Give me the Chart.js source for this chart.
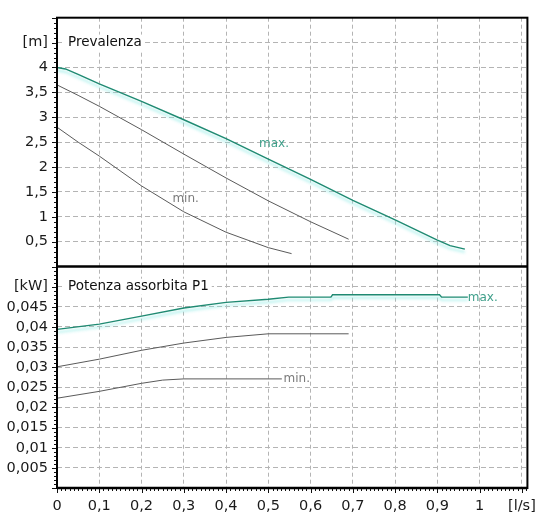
<!DOCTYPE html>
<html>
<head>
<meta charset="utf-8">
<script src="https://cdn.jsdelivr.net/npm/chart.js@4.4.1/dist/chart.umd.min.js"></script>
<style>
  html, body { margin: 0; padding: 0; background: #fff; }
  #wrap { width: 546px; height: 515px; }
</style>
</head>
<body>
<div id="wrap"><canvas id="curve" width="546" height="515"></canvas></div>
<script>
// portata [l/s]
var flowTicks = [0, 0.1, 0.2, 0.3, 0.4, 0.5, 0.6, 0.7, 0.8, 0.9, 1, 1.1];
var flowLabels = ['0', '0,1', '0,2', '0,3', '0,4', '0,5', '0,6', '0,7', '0,8', '0,9', '1', '[l/s]'];

// prevalenza [m]
var headTicks = [0.5, 1, 1.5, 2, 2.5, 3, 3.5, 4, 4.5];
var headLabels = ['0,5', '1', '1,5', '2', '2,5', '3', '3,5', '4', '[m]'];

// potenza [kW]
var powerTicks = [0.005, 0.01, 0.015, 0.02, 0.025, 0.03, 0.035, 0.04, 0.045, 0.05];
var powerLabels = ['0,005', '0,01', '0,015', '0,02', '0,025', '0,03', '0,035', '0,04', '0,045', '[kW]'];

// curve prevalenza
var headMaxQ = [0, 0.02, 0.05, 0.1, 0.2, 0.3, 0.4, 0.5, 0.6, 0.7, 0.8, 0.9, 0.93, 0.965];
var headMaxH = [4.0, 3.97, 3.86, 3.67, 3.32, 2.95, 2.57, 2.16, 1.75, 1.33, 0.94, 0.53, 0.42, 0.35];
var headMidQ = [0, 0.05, 0.1, 0.2, 0.3, 0.4, 0.5, 0.6, 0.69];
var headMidH = [3.65, 3.44, 3.22, 2.75, 2.26, 1.78, 1.32, 0.9, 0.55];
var headMinQ = [0, 0.05, 0.1, 0.2, 0.3, 0.4, 0.5, 0.555];
var headMinH = [2.8, 2.5, 2.22, 1.62, 1.1, 0.69, 0.38, 0.26];

// curve potenza assorbita
var powMaxQ = [0, 0.1, 0.2, 0.3, 0.4, 0.5, 0.548, 0.648, 0.652, 0.905, 0.91, 0.972];
var powMaxP = [0.0394, 0.0407, 0.0427, 0.0447, 0.0461, 0.0469, 0.0474, 0.0474, 0.048, 0.048, 0.0474, 0.0474];
var powMidQ = [0, 0.1, 0.2, 0.3, 0.4, 0.5, 0.69];
var powMidP = [0.0301, 0.032, 0.0342, 0.036, 0.0374, 0.0383, 0.0383];
var powMinQ = [0, 0.1, 0.2, 0.25, 0.3, 0.532];
var powMinP = [0.0223, 0.024, 0.026, 0.0268, 0.0271, 0.0271];

// etichette sulle curve
var curveNotes = [
  { text: 'max.', x: 0.478, y: 2.47, axis: 'yH', color: '#3f9f8a' },
  { text: 'min.', x: 0.273, y: 1.35, axis: 'yH', color: '#7a7a7a' },
  { text: 'max.', x: 0.972, y: 0.0473, axis: 'yP', color: '#3f9f8a' },
  { text: 'min.', x: 0.536, y: 0.0272, axis: 'yP', color: '#7a7a7a' }
];
var panelTitles = [
  { text: 'Prevalenza', x: 0.026, y: 4.5, axis: 'yH' },
  { text: 'Potenza assorbita P1', x: 0.026, y: 0.05, axis: 'yP' }
];

function toPoints(xs, ys) {
  return xs.map(function (v, i) { return { x: v, y: ys[i] }; });
}

var TEAL = '#1f8a72';
var GREY = '#5a5a5a';
var GRID = '#b4b4b4';

Chart.defaults.font.family = "'DejaVu Sans', sans-serif";
Chart.defaults.font.size = 13;
Chart.defaults.color = '#1a1a1a';

function lineSet(data, axis, color, width, glow) {
  return {
    data: data,
    yAxisID: axis,
    borderColor: color,
    borderWidth: width,
    pointRadius: 0,
    fill: false,
    tension: 0,
    glow: glow
  };
}

// sfondo bianco, cornice, tacche minori, etichette
var framePlugin = {
  id: 'frame',
  beforeDraw: function (chart) {
    var c = chart.ctx;
    c.save();
    c.fillStyle = '#fff';
    c.fillRect(0, 0, chart.width, chart.height);
    c.restore();
  },
  beforeDatasetDraw: function (chart, args) {
    var ds = chart.data.datasets[args.index];
    if (ds.glow) {
      chart.ctx.save();
      chart.ctx.shadowColor = 'rgba(140, 235, 228, 0.9)';
      chart.ctx.shadowBlur = 3;
      chart.ctx.shadowOffsetY = 3;
    }
  },
  afterDatasetDraw: function (chart, args) {
    var ds = chart.data.datasets[args.index];
    if (ds.glow) chart.ctx.restore();
  },
  afterDraw: function (chart) {
    var c = chart.ctx;
    var a = chart.chartArea;
    var sx = chart.scales.x, sh = chart.scales.yH, sp = chart.scales.yP;
    c.save();

    // titoli pannelli
    c.font = "13.5px 'DejaVu Sans', sans-serif";
    c.textBaseline = 'middle';
    c.textAlign = 'left';
    panelTitles.forEach(function (t) {
      var px = sx.getPixelForValue(t.x);
      var py = chart.scales[t.axis].getPixelForValue(t.y);
      var w = c.measureText(t.text).width;
      c.fillStyle = '#fff';
      c.fillRect(px - 3, py - 8, w + 6, 16);
      c.fillStyle = '#111';
      c.fillText(t.text, px, py);
    });

    // etichette max / min
    c.font = "12px 'DejaVu Sans', sans-serif";
    curveNotes.forEach(function (t) {
      var px = sx.getPixelForValue(t.x);
      var py = chart.scales[t.axis].getPixelForValue(t.y);
      c.fillStyle = t.color;
      c.fillText(t.text, px, py);
    });

    // tacche minori
    c.strokeStyle = '#111';
    c.lineWidth = 1;
    c.beginPath();
    var i, p, len;
    for (i = 0; i <= 50; i++) {
      p = Math.round(sh.getPixelForValue(i / 10)) + 0.5;
      len = (i % 5 === 0) ? 5 : 3;
      c.moveTo(a.left - len, p); c.lineTo(a.left, p);
    }
    for (i = 0; i <= 55; i++) {
      p = Math.round(sp.getPixelForValue(i / 1000)) + 0.5;
      len = (i % 5 === 0) ? 5 : 3;
      c.moveTo(a.left - len, p); c.lineTo(a.left, p);
    }
    for (i = 0; i <= 111; i++) {
      p = Math.round(sx.getPixelForValue(i / 100)) + 0.5;
      len = (i % 10 === 0) ? 5 : 3;
      c.moveTo(p, a.bottom); c.lineTo(p, a.bottom + len);
    }
    c.stroke();

    // cornice
    c.strokeStyle = '#000';
    c.lineWidth = 2;
    c.strokeRect(a.left, a.top, a.right - a.left, a.bottom - a.top);
    c.lineWidth = 2.5;
    c.beginPath();
    c.moveTo(a.left, sh.bottom); c.lineTo(a.right, sh.bottom);
    c.moveTo(a.left, a.bottom); c.lineTo(a.right, a.bottom);
    c.stroke();
    c.restore();
  }
};

function yScale(weight, min, max, ticks, labels) {
  return {
    type: 'linear',
    position: 'left',
    stack: 'pompa',
    stackWeight: weight,
    min: min,
    max: max,
    afterBuildTicks: function (s) {
      s.ticks = ticks.map(function (v) { return { value: v }; });
    },
    afterFit: function (s) { s.width = 57; },
    ticks: {
      autoSkip: false,
      padding: 9,
      font: { size: 14.5 },
      callback: function (v, i) { return labels[i]; }
    },
    grid: { color: GRID, lineWidth: 1, drawTicks: false },
    border: { display: false, dash: [5, 3] }
  };
}

new Chart(document.getElementById('curve'), {
  type: 'line',
  data: {
    datasets: [
      lineSet(toPoints(headMaxQ, headMaxH), 'yH', TEAL, 1.4, true),
      lineSet(toPoints(headMidQ, headMidH), 'yH', GREY, 1, false),
      lineSet(toPoints(headMinQ, headMinH), 'yH', GREY, 1, false),
      lineSet(toPoints(powMaxQ, powMaxP), 'yP', TEAL, 1.4, true),
      lineSet(toPoints(powMidQ, powMidP), 'yP', GREY, 1, false),
      lineSet(toPoints(powMinQ, powMinP), 'yP', GREY, 1, false)
    ]
  },
  options: {
    responsive: false,
    animation: false,
    layout: { padding: { left: 0, top: 8, right: 16, bottom: 0 } },
    plugins: { legend: { display: false }, tooltip: { enabled: false } },
    scales: {
      x: {
        type: 'linear',
        position: 'bottom',
        min: 0,
        max: 1.113,
        afterBuildTicks: function (s) {
          s.ticks = flowTicks.map(function (v) { return { value: v }; });
        },
        afterFit: function (s) { s.height = 27; },
        ticks: {
          autoSkip: false,
          maxRotation: 0,
          padding: 10,
          font: { size: 14.5 },
          callback: function (v, i) { return flowLabels[i]; }
        },
        grid: { color: GRID, lineWidth: 1, drawTicks: false },
        border: { display: false, dash: [4, 3] }
      },
      // nello stack la prima scala definita finisce in basso
      yP: yScale(226, 0, 0.055, powerTicks, powerLabels),
      yH: yScale(254, 0, 5, headTicks, headLabels)
    }
  },
  plugins: [framePlugin]
});
</script>
</body>
</html>
